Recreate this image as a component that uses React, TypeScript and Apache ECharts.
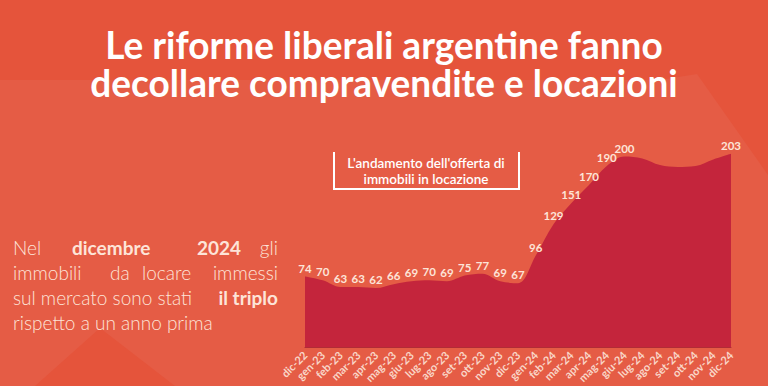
import React, { useEffect, useRef } from "react";
import * as echarts from "echarts";

const categories = [
  "dic-22", "gen-23", "feb-23", "mar-23", "apr-23", "mag-23", "giu-23", "lug-23",
  "ago-23", "set-23", "ott-23", "nov-23", "dic-23", "gen-24", "feb-24", "mar-24",
  "apr-24", "mag-24", "giu-24", "lug-24", "ago-24", "set-24", "ott-24", "nov-24", "dic-24",
];
const values = [74, 70, 63, 63, 62, 66, 69, 70, 69, 75, 77, 69, 67, 96, 129, 151, 170, 190, 200, null, null, null, null, null, 203];
// unlabeled months
const hiddenValues: Record<number, number> = { 19: 198, 20: 191, 21: 189, 22: 190, 23: 197 };

const titleLines = ["Le riforme liberali argentine fanno", "decollare compravendite e locazioni"];
const boxLines = ["L'andamento dell'offerta di", "immobili in locazione"];

const cream = "#fde4d8";

export default function App() {
  const ref = useRef<HTMLDivElement>(null);
  useEffect(() => {
    const chart = echarts.init(ref.current!, undefined, { renderer: "svg" });
    const data = values.map((v, i) => {
      if (v === null) return { value: hiddenValues[i], label: { show: false } };
      return { value: v };
    });

    const textBase = { fill: cream, fontFamily: "Lato", fontSize: 19, fontWeight: 300, textVerticalAlign: "middle" as const };
    const bold = { ...textBase, fontWeight: 700 };
    const word = (text: string, x: number, y: number, style: any, align = "left") => ({
      type: "text", x, y, style: { ...style, text, textAlign: align }, z: 10,
    });

    chart.setOption({
      animation: false,
      backgroundColor: "#e5543b",
      grid: { left: 305, right: 37, top: 147, bottom: 39 },
      xAxis: {
        type: "category",
        data: categories,
        boundaryGap: false,
        axisLine: { lineStyle: { color: "#b12c35", width: 1 } },
        axisTick: { show: false },
        axisLabel: {
          rotate: 45,
          interval: 0,
          color: "#f9d6c8",
          fontFamily: "Lato",
          fontWeight: 700,
          fontSize: 11,
          margin: 6,
        },
      },
      yAxis: { type: "value", min: 0, max: 210, show: false, splitLine: { show: false } },
      series: [
        {
          type: "line",
          data,
          smooth: 0.35,
          symbol: "circle",
          symbolSize: 1,
          showSymbol: true,
          itemStyle: { color: "rgba(0,0,0,0)" },
          lineStyle: { width: 0 },
          areaStyle: { color: "#c4253c", opacity: 1 },
          label: {
            show: true,
            position: "top",
            distance: 2,
            color: cream,
            fontFamily: "Lato",
            fontWeight: 700,
            fontSize: 11.5,
          },
          z: 5,
        },
      ],
      graphic: [
        {
          type: "polygon",
          z: -10,
          silent: true,
          shape: {
            points: [
              [0, 80], [660, 80], [697, 74], [768, 175], [768, 386], [175, 386], [100, 328], [35, 386], [0, 386],
            ],
          },
          style: { fill: "#e55c45" },
        },
        ...titleLines.map((t, i) => ({
          type: "text",
          x: 384,
          y: 44 + i * 38,
          scaleX: 0.974,
          z: 10,
          style: {
            text: t,
            fill: "#ffffff",
            fontFamily: "Lato",
            fontWeight: 700,
            fontSize: 38,
            textAlign: "center",
            textVerticalAlign: "middle",
          },
        })),
        {
          type: "polyline",
          z: 10,
          shape: { points: [[334, 152], [334, 189], [519, 189], [519, 152]] },
          style: { stroke: "#ffffff", lineWidth: 2, fill: "none" },
        },
        ...boxLines.map((t, i) => ({
          type: "text",
          x: 426,
          y: 162.5 + i * 16,
          z: 10,
          style: {
            text: t,
            fill: "#ffffff",
            fontFamily: "Lato",
            fontWeight: 600,
            fontSize: 13.5,
            textAlign: "center",
            textVerticalAlign: "middle",
          },
        })),
        word("Nel", 13, 247, textBase),
        word("dicembre", 72, 247, bold),
        word("2024", 197, 247, bold),
        word("gli", 278, 247, textBase, "right"),
        word("immobili", 13, 272, textBase),
        word("da", 110, 272, textBase),
        word("locare", 142, 272, textBase),
        word("immessi", 278, 272, textBase, "right"),
        word("sul mercato sono stati", 13, 297, textBase),
        word("il triplo", 278, 297, bold, "right"),
        word("rispetto a un anno prima", 13, 322, textBase),
      ],
    });
    return () => chart.dispose();
  }, []);
  return (
    <div
      ref={ref}
      style={{ position: "fixed", left: 0, top: 0, width: 768, height: 386 }}
    />
  );
}
